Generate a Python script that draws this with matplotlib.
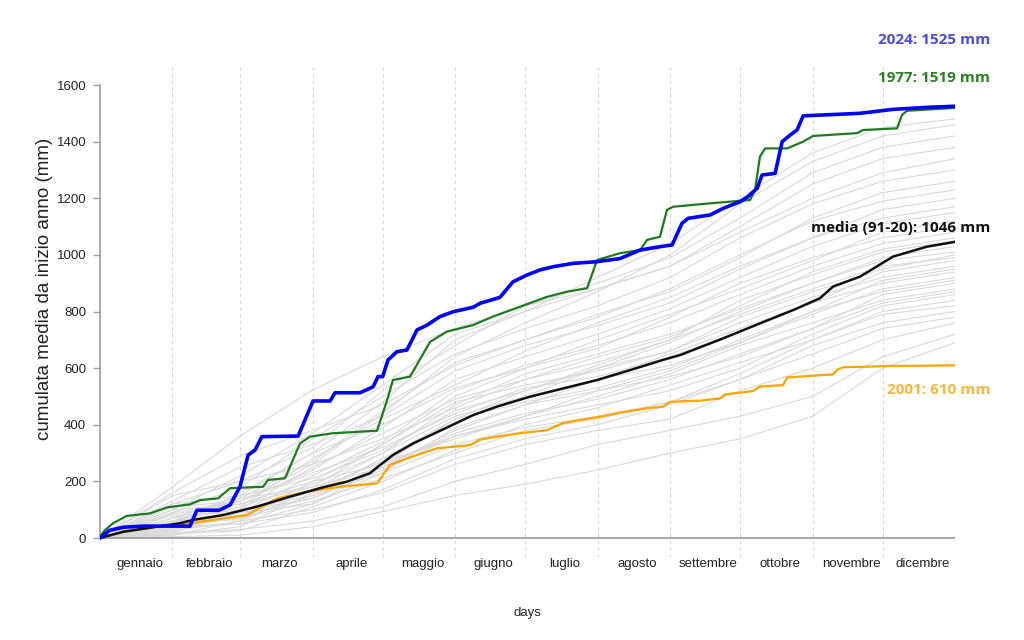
import matplotlib
matplotlib.use('Agg')
import matplotlib.pyplot as plt

# giorni di fine mese (anno bisestile) e nomi dei mesi
MONTH_END = [0, 31, 60, 91, 121, 152, 182, 213, 244, 274, 305, 335, 366]
MONTHS = ['gennaio', 'febbraio', 'marzo', 'aprile', 'maggio', 'giugno',
          'luglio', 'agosto', 'settembre', 'ottobre', 'novembre', 'dicembre']

# altri anni: cumulata (mm) a fine mese, stimata dal grafico
GRAY_YEARS = [
    [0, 5, 10, 40, 93, 150, 190, 240, 300, 350, 430, 600, 690],
    [0, 20, 30, 60, 110, 200, 260, 330, 380, 430, 500, 640, 720],
    [0, 10, 60, 100, 160, 260, 330, 380, 420, 520, 600, 700, 760],
    [0, 40, 50, 90, 170, 280, 350, 400, 470, 560, 650, 740, 780],
    [0, 60, 70, 130, 210, 300, 380, 420, 480, 560, 680, 760, 800],
    [0, 30, 100, 150, 230, 330, 390, 430, 480, 580, 700, 790, 820],
    [0, 15, 25, 110, 200, 310, 400, 460, 540, 620, 700, 800, 840],
    [0, 50, 80, 140, 240, 360, 420, 470, 520, 600, 720, 820, 860],
    [0, 80, 90, 120, 250, 370, 440, 490, 560, 650, 740, 830, 870],
    [0, 25, 60, 170, 270, 350, 430, 500, 580, 680, 760, 840, 880],
    [0, 70, 140, 180, 250, 380, 470, 520, 570, 640, 740, 860, 900],
    [0, 40, 70, 150, 280, 420, 480, 530, 600, 700, 800, 870, 910],
    [0, 100, 120, 200, 260, 360, 430, 520, 590, 690, 790, 880, 920],
    [0, 35, 50, 120, 230, 390, 470, 560, 650, 740, 830, 900, 940],
    [0, 60, 110, 190, 300, 430, 500, 560, 610, 690, 800, 910, 950],
    [0, 10, 40, 160, 280, 410, 500, 600, 660, 760, 850, 920, 960],
    [0, 90, 130, 230, 320, 440, 530, 570, 640, 730, 830, 940, 980],
    [0, 45, 95, 140, 260, 420, 520, 610, 700, 790, 880, 960, 990],
    [0, 55, 65, 200, 330, 480, 540, 590, 660, 780, 870, 950, 1000],
    [0, 120, 150, 210, 310, 450, 520, 600, 690, 800, 900, 980, 1010],
    [0, 30, 80, 170, 300, 470, 580, 650, 720, 810, 900, 990, 1030],
    [0, 70, 100, 250, 370, 490, 560, 620, 700, 840, 930, 1010, 1050],
    [0, 150, 200, 260, 350, 460, 560, 640, 710, 820, 940, 1020, 1060],
    [0, 20, 90, 220, 340, 520, 610, 680, 760, 860, 960, 1040, 1080],
    [0, 85, 120, 180, 330, 500, 600, 670, 780, 900, 990, 1060, 1100],
    [0, 40, 160, 300, 400, 530, 600, 700, 790, 880, 980, 1080, 1120],
    [0, 110, 130, 240, 390, 560, 640, 720, 810, 920, 1030, 1110, 1150],
    [0, 60, 110, 280, 420, 540, 660, 760, 850, 960, 1060, 1130, 1170],
    [0, 130, 250, 330, 430, 590, 680, 750, 830, 950, 1060, 1160, 1200],
    [0, 50, 140, 270, 450, 620, 700, 780, 880, 1000, 1120, 1190, 1230],
    [0, 160, 290, 380, 470, 610, 700, 790, 870, 990, 1130, 1220, 1260],
    [0, 90, 180, 350, 500, 650, 740, 820, 920, 1060, 1180, 1260, 1300],
    [0, 180, 360, 523, 640, 740, 820, 880, 960, 1080, 1200, 1290, 1340],
    [0, 70, 150, 300, 480, 700, 800, 880, 960, 1100, 1250, 1340, 1380],
    [0, 120, 200, 320, 520, 680, 820, 900, 990, 1130, 1290, 1380, 1420],
    [0, 60, 130, 260, 440, 640, 760, 870, 1000, 1180, 1330, 1420, 1460],
    [0, 100, 220, 370, 540, 720, 800, 920, 1040, 1200, 1360, 1450, 1480],
]

# 2024
Y2024_DAY = [0, 4, 10, 19, 38.5, 41.5, 51, 55.7, 59.9, 63.4, 66.4, 69.3, 84.8, 91.2,
             98.5, 100.6, 111.3, 116.9, 119, 121, 123.3, 127.1, 131.4, 135.7, 140,
             145.5, 151.1, 159.7, 162.7, 171.2, 176.8, 182.8, 188.4, 193.9, 202.5,
             212.8, 222.6, 231.2, 239.7, 244.9, 249.1, 251.7, 261.1, 266.7, 274,
             277.4, 281.3, 283.4, 289, 292, 295.4, 298.4, 301, 325.3, 339.5, 354, 366]
Y2024_MM = [0, 27, 38, 42, 42, 98, 98, 117, 181, 293, 311, 358, 360, 484,
            484, 513, 513, 534, 570, 570, 629, 658, 664, 735, 752,
            782, 799, 815, 829, 850, 905, 929, 947, 958, 970,
            976, 987, 1017, 1029, 1035, 1111, 1129, 1141, 1164, 1188,
            1206, 1235, 1282, 1288, 1400, 1423, 1441, 1491, 1500, 1514, 1521, 1525]

# 1977
Y1977_DAY = [0, 2.1, 5.6, 11.4, 21.4, 28.7, 38.5, 42.8, 50.5, 55.7, 69.8, 71.9, 79.2,
             85.6, 89.9, 99.7, 118.6, 122.9, 125.4, 132.7, 141.3, 148.5, 159.7,
             168.2, 179.8, 191.4, 199.9, 208.5, 212.8, 222.6, 231.2, 234.2, 239.7,
             242.7, 245.3, 261.1, 278.3, 280.4, 282.5, 284.7, 294.1, 301, 305.2,
             324.1, 326.6, 341.2, 343.3, 345.5, 366]
Y1977_MM = [5, 28, 52, 78, 87, 108, 119, 134, 140, 176, 181, 205, 211,
            334, 358, 370, 379, 487, 558, 570, 693, 729, 752,
            782, 817, 852, 870, 882, 982, 1006, 1017, 1053, 1064,
            1159, 1170, 1182, 1194, 1229, 1347, 1376, 1376, 1400, 1420,
            1430, 1441, 1447, 1494, 1509, 1519]

# media 1991-2020
MEAN_DAY = [0, 9.9, 24.4, 34.2, 39.8, 52.7, 67.2, 81.3, 95.5, 105.7, 115.6, 119.9,
            125.4, 134, 148.5, 159.7, 169.9, 184.1, 198.2, 212.8, 226.9, 241,
            248.3, 266.7, 282.5, 296.7, 308.2, 313.8, 325.3, 339.5, 354, 366]
MEAN_MM = [0, 22, 40, 52, 64, 81, 111, 146, 179, 199, 229, 258,
           293, 334, 390, 434, 464, 499, 528, 558, 593, 629,
           646, 705, 758, 805, 847, 888, 923, 994, 1029, 1046]

# 2001
Y2001_DAY = [0, 9.9, 24.4, 38.5, 52.7, 62.9, 75.8, 88.6, 102.7, 118.6, 124.1, 131.4,
             144.3, 158.4, 162.7, 169.9, 179.8, 191.4, 197.8, 205.5, 214, 222.6,
             234.2, 241, 244, 256.8, 265.4, 267.5, 279.5, 282.5, 292.4, 294.1,
             313.8, 315.9, 318.1, 335.2, 366]
Y2001_MM = [0, 22, 40, 52, 69, 81, 140, 164, 181, 193, 258, 281,
            317, 328, 348, 358, 370, 381, 405, 417, 428, 443,
            458, 464, 481, 485, 493, 507, 519, 535, 540, 567,
            578, 596, 603, 607, 610]

LABELS = [
    ('2024: 1525 mm', 1759, '#4b4bdc'),
    ('1977: 1519 mm', 1625, '#2f7d24'),
    ('media (91-20): 1046 mm', 1095, '#111111'),
    ('2001: 610 mm', 523, '#f6b73c'),
]

plt.rcParams['font.family'] = ['Liberation Sans', 'DejaVu Sans']

W, H = 1024, 640
fig = plt.figure(figsize=(W / 100, H / 100), dpi=100)
fig.patch.set_facecolor('white')

# area assi in pixel: x 100..955, y 67..557
ax = fig.add_axes([100 / W, 1 - 557 / H, 855 / W, 490 / H])
ax.set_xlim(0, 366)
ax.set_ylim(-67.1, 1663.6)

for v in MONTH_END[1:]:
    ax.axvline(v, color='#d8d8d8', lw=0.8, ls=(0, (3, 3)), zorder=0)

for yr in GRAY_YEARS:
    ax.plot(MONTH_END, yr, color='#d9d9d9', lw=0.8, zorder=1)

ax.axhline(0, color='#a0a0a0', lw=1.3, zorder=2)

ax.plot(Y2001_DAY, Y2001_MM, color='#ffa500', lw=1.6, zorder=3)
ax.plot(MEAN_DAY, MEAN_MM, color='#111111', lw=1.8, zorder=4)
ax.plot(Y1977_DAY, Y1977_MM, color='#1f7a1f', lw=1.6, zorder=5)
ax.plot(Y2024_DAY, Y2024_MM, color='#0000ff', lw=2.6, zorder=6)

for sp in ['top', 'right', 'bottom']:
    ax.spines[sp].set_visible(False)
ax.spines['left'].set_color('#a0a0a0')
ax.spines['left'].set_linewidth(1.2)
ax.spines['left'].set_bounds(0, 1600)

ax.set_yticks(range(0, 1601, 200))
ax.tick_params(axis='y', direction='out', length=5, width=1, color='#a0a0a0',
               pad=5, labelsize=9.5, labelcolor='#222222')

mid = [(MONTH_END[i] + MONTH_END[i + 1]) / 2 + 1.5 for i in range(12)]
ax.set_xticks(mid)
ax.set_xticklabels(MONTHS)
ax.tick_params(axis='x', length=0, pad=1, labelsize=9.5, labelcolor='#222222')

fig.text(527.5 / W, 1 - 613 / H, 'days', ha='center', va='center',
         fontsize=9.5, color='#222222')
fig.text(45 / W, 1 - 289 / H, 'cumulata media da inizio anno (mm)', rotation=90,
         ha='center', va='center', fontsize=13.5, color='#222222')

for txt, yv, col in LABELS:
    ax.text(381, yv, txt, ha='right', va='center', color=col, fontsize=11,
            fontweight='bold', family='Open Sans', clip_on=False, zorder=7)

fig.savefig('out.png', dpi=100, facecolor='white')
